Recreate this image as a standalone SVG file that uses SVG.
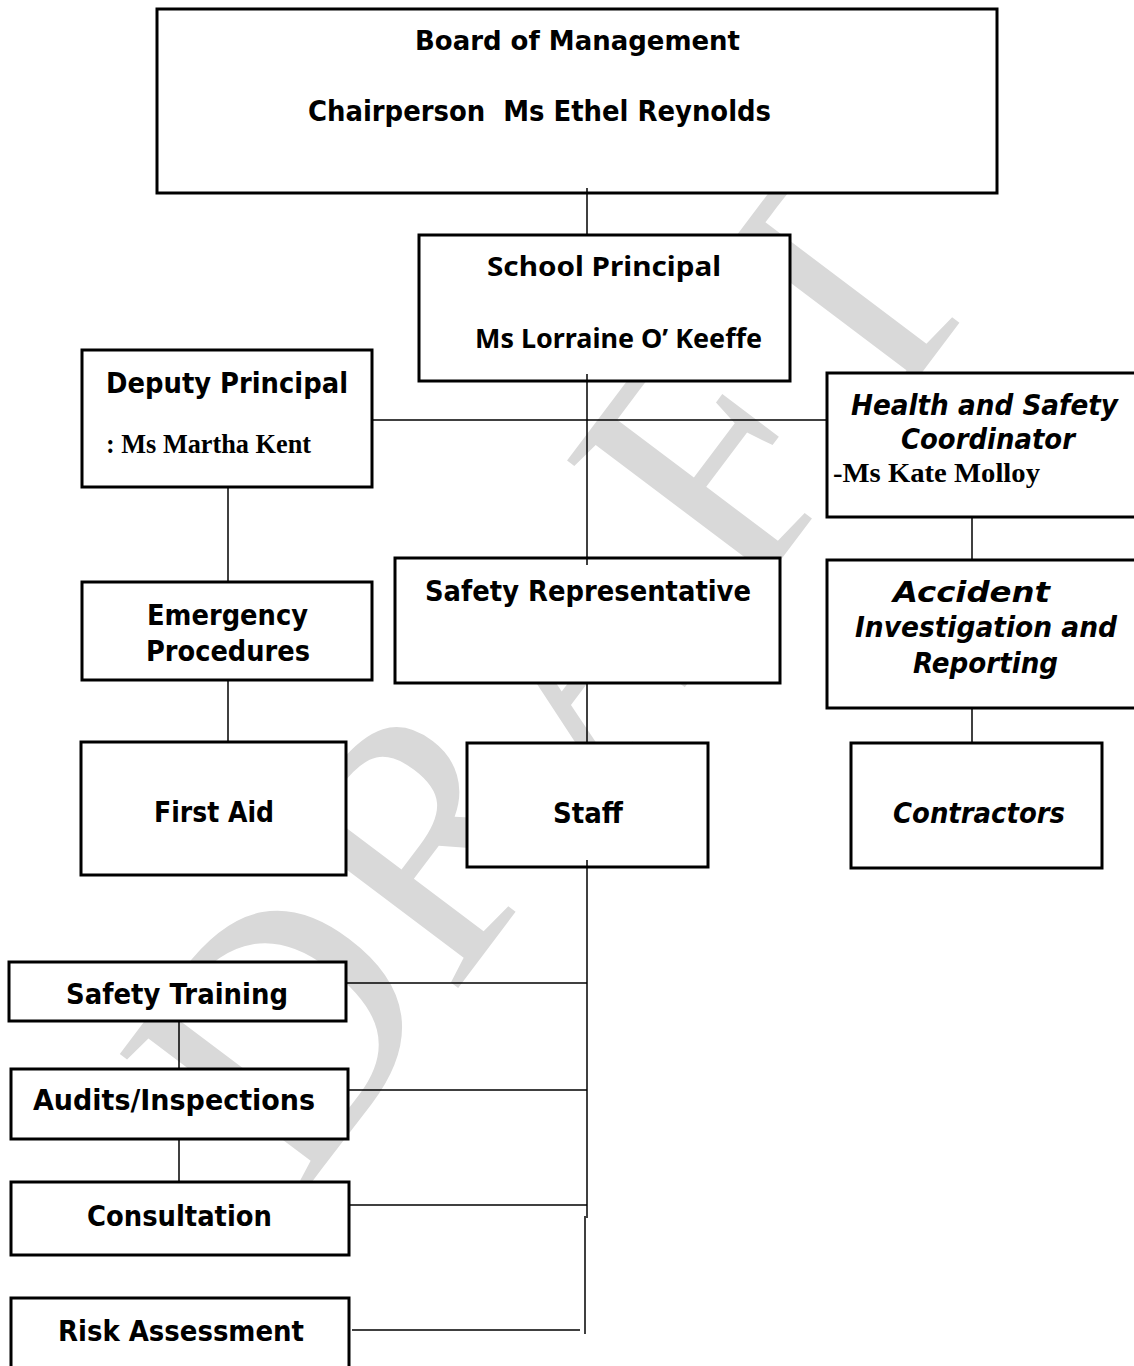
<svg xmlns="http://www.w3.org/2000/svg" width="1134" height="1366" viewBox="0 0 1134 1366">
<style>
.box{fill:#fff;stroke:#000;stroke-width:3}
.ln{stroke:#000;stroke-width:1.5;fill:none}
.v{font-family:"DejaVu Sans",Verdana,sans-serif;font-weight:bold;fill:#000}
.vi{font-family:"DejaVu Sans",Verdana,sans-serif;font-weight:bold;font-style:italic;fill:#000}
.c{font-family:"Noto Sans","Open Sans",sans-serif;font-weight:bold;fill:#000}
.t{font-family:"Liberation Serif","Times New Roman",serif;font-weight:bold;fill:#000}
.wm{font-family:"Liberation Serif","Times New Roman",serif;fill:#d9d9d9}
</style>
<rect width="1134" height="1366" fill="#fff"/>
<g id="watermark">
<text class="wm" transform="translate(645,740) rotate(-53)" x="-577" y="0" font-size="352">DRAFT</text>
</g>
<g id="board">
<rect class="box" x="157" y="9" width="840" height="184"/>
<text class="v" x="415" y="50" font-size="27" textLength="325" lengthAdjust="spacingAndGlyphs">Board of Management</text>
<text class="v" x="308" y="121" font-size="28" textLength="463" lengthAdjust="spacingAndGlyphs" xml:space="preserve">Chairperson  Ms Ethel Reynolds</text>
</g>
<g id="principal">
<rect class="box" x="419" y="235" width="371" height="146"/>
<text class="c" x="487" y="276" font-size="27" textLength="234" lengthAdjust="spacingAndGlyphs">School Principal</text>
<text class="c" x="475" y="348" font-size="27" textLength="287" lengthAdjust="spacingAndGlyphs">Ms Lorraine O’ Keeffe</text>
</g>
<g id="deputy">
<rect class="box" x="82" y="350" width="290" height="137"/>
<text class="v" x="106" y="393" font-size="28" textLength="242" lengthAdjust="spacingAndGlyphs">Deputy Principal</text>
<text class="t" x="106" y="453" font-size="26.5" textLength="205" lengthAdjust="spacingAndGlyphs">: Ms Martha Kent</text>
</g>
<g id="hs-coordinator">
<rect class="box" x="827" y="373" width="313" height="144"/>
<text class="vi" x="851" y="415" font-size="28" textLength="267" lengthAdjust="spacingAndGlyphs">Health and Safety</text>
<text class="vi" x="901" y="449" font-size="28" textLength="174" lengthAdjust="spacingAndGlyphs">Coordinator</text>
<text class="t" x="833" y="482" font-size="28" textLength="207" lengthAdjust="spacingAndGlyphs">-Ms Kate Molloy</text>
</g>
<g id="emergency">
<rect class="box" x="82" y="582" width="290" height="98"/>
<text class="v" x="147" y="625" font-size="28" textLength="161" lengthAdjust="spacingAndGlyphs">Emergency</text>
<text class="v" x="146" y="661" font-size="28" textLength="164" lengthAdjust="spacingAndGlyphs">Procedures</text>
</g>
<g id="safety-rep">
<rect class="box" x="395" y="558" width="385" height="125"/>
<text class="v" x="425" y="601" font-size="28" textLength="326" lengthAdjust="spacingAndGlyphs">Safety Representative</text>
</g>
<g id="accident">
<rect class="box" x="827" y="560" width="313" height="148"/>
<text class="vi" x="893" y="602" font-size="28" textLength="157" lengthAdjust="spacingAndGlyphs">Accident</text>
<text class="vi" x="855" y="637" font-size="28" textLength="262" lengthAdjust="spacingAndGlyphs">Investigation and</text>
<text class="vi" x="913" y="673" font-size="28" textLength="145" lengthAdjust="spacingAndGlyphs">Reporting</text>
</g>
<g id="first-aid">
<rect class="box" x="81" y="742" width="265" height="133"/>
<text class="v" x="154" y="822" font-size="28" textLength="120" lengthAdjust="spacingAndGlyphs">First Aid</text>
</g>
<g id="staff">
<rect class="box" x="467" y="743" width="241" height="124"/>
<text class="v" x="553" y="823" font-size="28" textLength="70" lengthAdjust="spacingAndGlyphs">Staff</text>
</g>
<g id="contractors">
<rect class="box" x="851" y="743" width="251" height="125"/>
<text class="vi" x="893" y="823" font-size="28" textLength="172" lengthAdjust="spacingAndGlyphs">Contractors</text>
</g>
<g id="safety-training">
<rect class="box" x="9" y="962" width="337" height="59"/>
<text class="v" x="66" y="1004" font-size="28" textLength="222" lengthAdjust="spacingAndGlyphs">Safety Training</text>
</g>
<g id="audits">
<rect class="box" x="11" y="1069" width="337" height="70"/>
<text class="v" x="33" y="1110" font-size="28" textLength="282" lengthAdjust="spacingAndGlyphs">Audits/Inspections</text>
</g>
<g id="consultation">
<rect class="box" x="11" y="1182" width="338" height="73"/>
<text class="v" x="87" y="1226" font-size="28" textLength="185" lengthAdjust="spacingAndGlyphs">Consultation</text>
</g>
<g id="risk">
<rect class="box" x="11" y="1298" width="338" height="80"/>
<text class="v" x="58" y="1341" font-size="28" textLength="246" lengthAdjust="spacingAndGlyphs">Risk Assessment</text>
</g>
<g id="connectors">
<line class="ln" x1="587" y1="188" x2="587" y2="235"/>
<line class="ln" x1="587" y1="374" x2="587" y2="565"/>
<line class="ln" x1="372" y1="420" x2="827" y2="420"/>
<line class="ln" x1="228" y1="487" x2="228" y2="582"/>
<line class="ln" x1="228" y1="680" x2="228" y2="742"/>
<line class="ln" x1="972" y1="517" x2="972" y2="560"/>
<line class="ln" x1="972" y1="708" x2="972" y2="743"/>
<line class="ln" x1="587" y1="683" x2="587" y2="743"/>
<line class="ln" x1="587" y1="860" x2="587" y2="1218"/>
<line class="ln" x1="585" y1="1216" x2="585" y2="1334"/>
<line class="ln" x1="346" y1="983" x2="587" y2="983"/>
<line class="ln" x1="348" y1="1090" x2="587" y2="1090"/>
<line class="ln" x1="349" y1="1205" x2="587" y2="1205"/>
<line class="ln" x1="352" y1="1330" x2="580" y2="1330"/>
<line class="ln" x1="179" y1="1021" x2="179" y2="1069"/>
<line class="ln" x1="179" y1="1139" x2="179" y2="1182"/>
</g>
</svg>
